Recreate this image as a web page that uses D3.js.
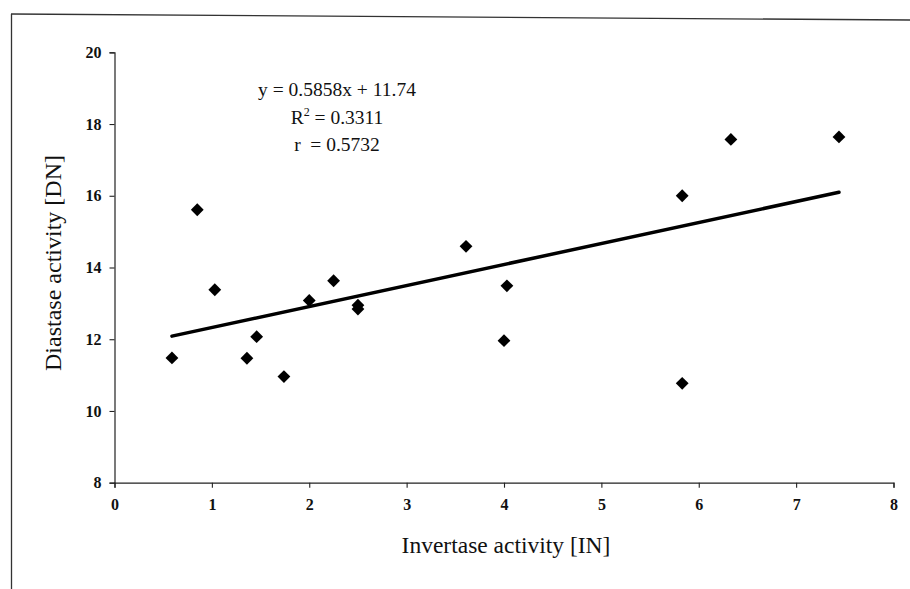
<!DOCTYPE html>
<html>
<head>
<meta charset="utf-8">
<script src="https://cdn.jsdelivr.net/npm/d3@7"></script>
<style>
  html, body { margin: 0; padding: 0; background: #fff; }
  svg { display: block; }
  text { font-family: "Liberation Serif", "Times New Roman", serif; fill: #111; }
</style>
</head>
<body>
<svg id="chart" width="910" height="589"></svg>
<script>
// Data
const invertase = [0.59, 0.85, 1.03, 1.36, 1.46, 1.74, 2.00, 2.25, 2.50, 2.50, 3.61, 4.03, 4.00, 5.83, 5.83, 6.33, 7.44];
const diastase  = [11.48, 15.61, 13.38, 11.47, 12.07, 10.96, 13.08, 13.63, 12.95, 12.84, 14.59, 13.49, 11.96, 16.00, 10.77, 17.57, 17.64];
const xTicks = [0, 1, 2, 3, 4, 5, 6, 7, 8];
const yTicks = [8, 10, 12, 14, 16, 18, 20];
const slope = 0.5858, intercept = 11.74;
const eqLines = ["y = 0.5858x + 11.74", "R2 = 0.3311", "r  = 0.5732"];
const xTitle = "Invertase activity [IN]";
const yTitle = "Diastase activity [DN]";

const svg = d3.select("#chart");
const x = d3.scaleLinear().domain([0, 8]).range([114.5, 893.5]);
const y = d3.scaleLinear().domain([8, 20]).range([482.7, 52.3]);

// outer frame (left and top edges only, as in the scan)
svg.append("line").attr("x1", 11.5).attr("y1", 14).attr("x2", 11.5).attr("y2", 589)
  .attr("stroke", "#333").attr("stroke-width", 1.3);
svg.append("line").attr("x1", 11).attr("y1", 14).attr("x2", 910).attr("y2", 20)
  .attr("stroke", "#333").attr("stroke-width", 1.3);

// axes
const xAxis = svg.append("g").attr("transform", `translate(0,${y(8)})`)
  .call(d3.axisBottom(x).tickValues(xTicks).tickSize(5).tickPadding(11).tickFormat(d3.format("d")));
const yAxis = svg.append("g").attr("transform", `translate(${x(0)},0)`)
  .call(d3.axisLeft(y).tickValues(yTicks).tickSize(5).tickPadding(8).tickFormat(d3.format("d")));
[xAxis, yAxis].forEach(g => {
  g.attr("font-size", null).attr("font-family", null);
  g.select(".domain").attr("stroke", "#222").attr("stroke-width", 1.2);
  g.selectAll(".tick line").attr("stroke", "#222").attr("stroke-width", 1.1);
  g.selectAll(".tick text").style("font-size", "16px")
    .style("font-weight", "bold").attr("fill", "#111");
});

// trend line over data range
const xmin = d3.min(invertase), xmax = d3.max(invertase);
svg.append("line")
  .attr("x1", x(xmin)).attr("y1", y(slope * xmin + intercept))
  .attr("x2", x(xmax)).attr("y2", y(slope * xmax + intercept))
  .attr("stroke", "#000").attr("stroke-width", 3.5).attr("stroke-linecap", "round");

// points (diamonds)
const sym = d3.symbol().type(d3.symbolSquare).size(82);
svg.append("g").selectAll("path").data(invertase.map((v, i) => [v, diastase[i]]))
  .join("path")
  .attr("d", sym)
  .attr("transform", d => `translate(${x(d[0])},${y(d[1])}) rotate(45)`)
  .attr("fill", "#000");

// equation text
const eq = svg.append("text").attr("text-anchor", "middle").style("font-size", "19.5px");
eq.append("tspan").attr("x", 337).attr("y", 96).text(eqLines[0]);
const l2 = eq.append("tspan").attr("x", 337).attr("y", 124);
l2.append("tspan").text("R");
l2.append("tspan").attr("dy", -8).style("font-size", "12px").text("2");
l2.append("tspan").attr("dy", 8).text(" = 0.3311");
eq.append("tspan").attr("x", 337).attr("y", 151).attr("xml:space", "preserve").text(eqLines[2]);

// axis titles
svg.append("text").attr("x", 506).attr("y", 553).attr("text-anchor", "middle")
  .style("font-size", "23.5px").text(xTitle);
svg.append("text").attr("transform", "translate(61,263) rotate(-90)")
  .attr("text-anchor", "middle").style("font-size", "24px").text(yTitle);
</script>
</body>
</html>
